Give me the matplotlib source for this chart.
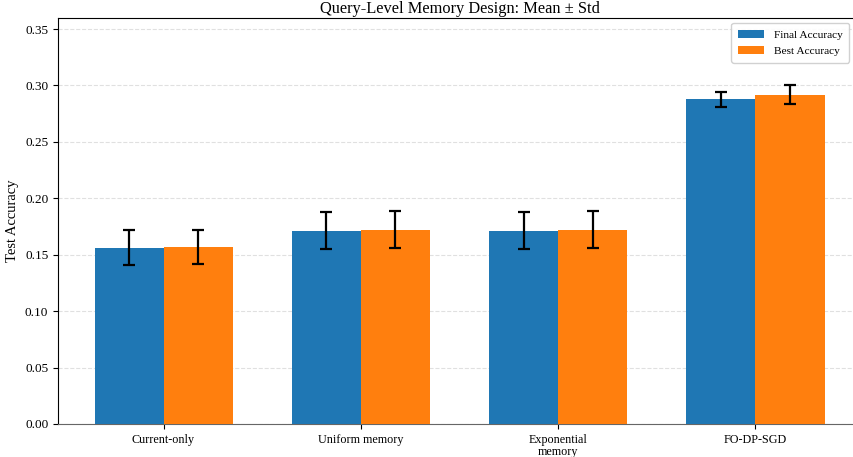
import numpy as np
import matplotlib.pyplot as plt

plt.rcParams["font.family"] = "serif"
plt.rcParams["font.serif"] = ["Liberation Serif", "DejaVu Serif"]

methods = ["Current-only", "Uniform memory", "Exponential\nmemory", "FO-DP-SGD"]
final_mean = [0.1563, 0.1714, 0.1714, 0.2877]
final_std = [0.0155, 0.0164, 0.0164, 0.0064]
best_mean = [0.1570, 0.1720, 0.1722, 0.2919]
best_std = [0.0152, 0.0164, 0.0166, 0.0083]

x = np.arange(len(methods))
width = 0.35

fig = plt.figure(figsize=(8.54, 4.57), dpi=100)
ax = fig.add_axes([58 / 854, 33 / 457, 803 / 854, 406.5 / 457])

err_kw = dict(ecolor="black", elinewidth=1.6, capsize=4, capthick=1.6)
ax.bar(x - width / 2, final_mean, width, yerr=final_std, color="#1f77b4",
       label="Final Accuracy", error_kw=err_kw, zorder=3)
ax.bar(x + width / 2, best_mean, width, yerr=best_std, color="#ff7f0e",
       label="Best Accuracy", error_kw=err_kw, zorder=3)

ax.set_xticks(x)
ax.set_xticklabels(methods, fontsize=8.7, linespacing=1.0)
ax.tick_params(axis="y", labelsize=9.5)
ax.set_ylabel("Test Accuracy", fontsize=10.5)
ax.set_title("Query-Level Memory Design: Mean \u00b1 Std", fontsize=11.8, pad=3)
ax.set_ylim(0, max(m + s for m, s in zip(best_mean, best_std)) * 1.2)
ax.yaxis.grid(True, linestyle="--", color="#cccccc", alpha=0.6, zorder=0)
ax.set_axisbelow(True)
ax.spines["bottom"].set_color("#666666")

ax.legend(loc="upper right", fontsize=8.2, framealpha=0.9, handlelength=2.3,
          bbox_to_anchor=(0.9925, 1.0), borderpad=0.6)

fig.savefig("out.png", dpi=100)
